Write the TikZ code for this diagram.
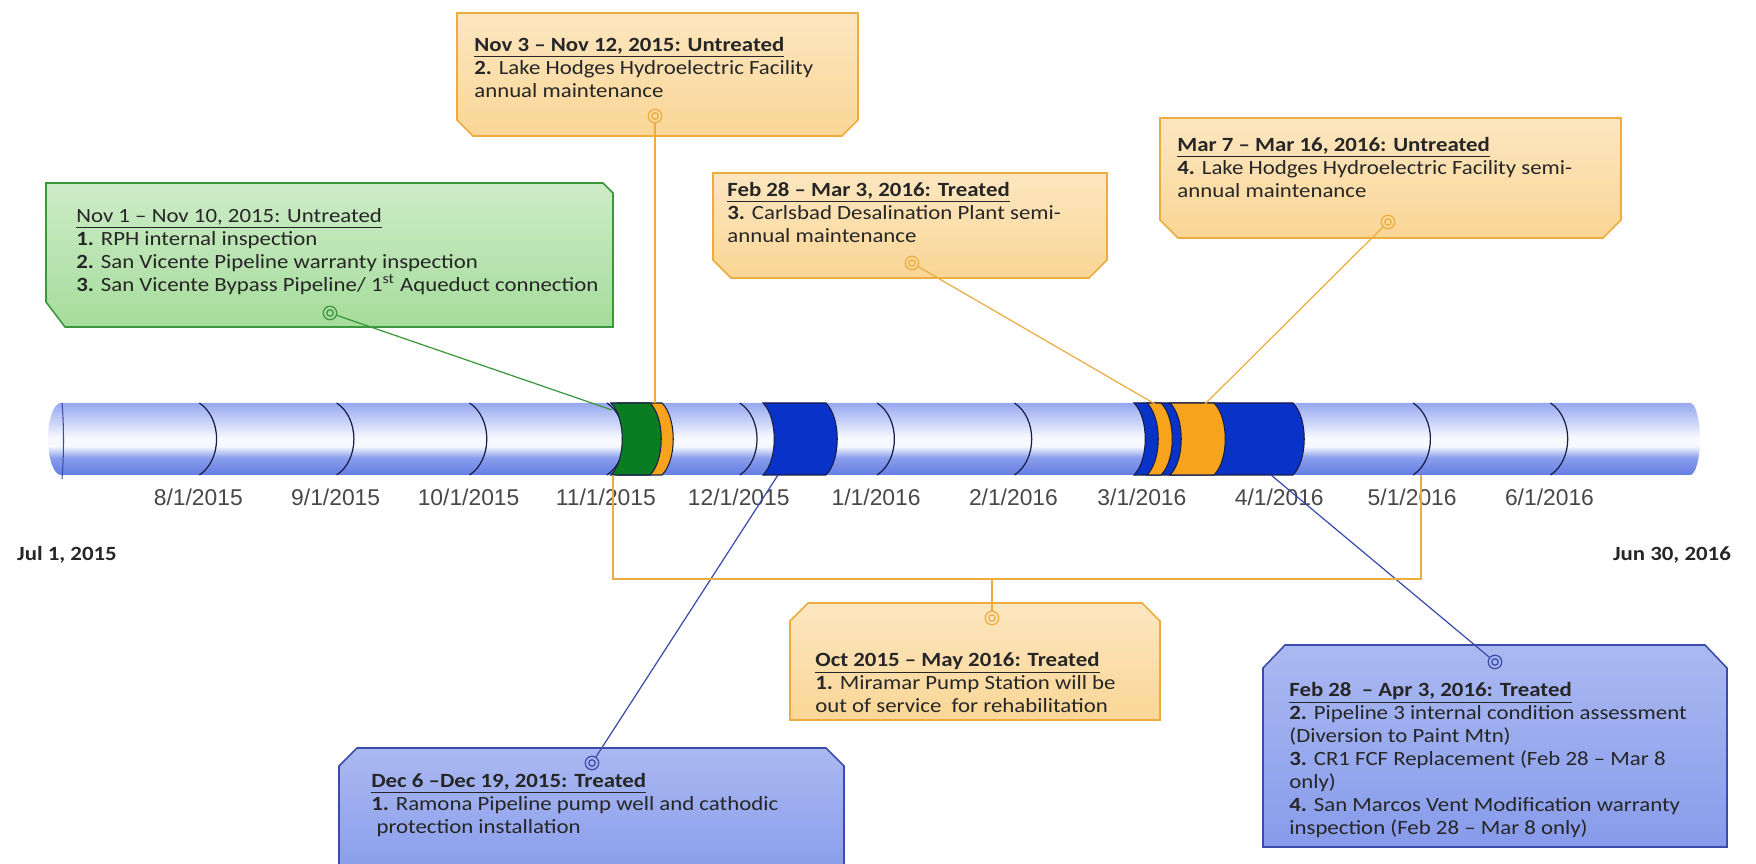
\documentclass[tikz,border=0pt]{standalone}
\usepackage{fontspec}
\setmainfont{Carlito}[FakeStretch=1.13]
\newfontfamily\datefont{Liberation Sans}
\usepackage{tikz}

\definecolor{bartop}{RGB}{150,168,240}
\definecolor{barhigh}{RGB}{205,214,249}
\definecolor{barlight}{RGB}{247,249,255}
\definecolor{barmid}{RGB}{138,158,236}
\definecolor{barlow}{RGB}{100,125,228}
\definecolor{arcnavy}{RGB}{25,30,70}
\definecolor{bandgreen}{RGB}{10,125,35}
\definecolor{bandorange}{RGB}{247,163,28}
\definecolor{bandblue}{RGB}{8,50,200}
\definecolor{grnline}{RGB}{60,150,60}
\definecolor{grnfill}{RGB}{165,220,155}
\definecolor{orgline}{RGB}{236,172,62}
\definecolor{orgfill}{RGB}{250,214,150}
\definecolor{bluline}{RGB}{60,76,170}
\definecolor{blufill}{RGB}{135,155,235}

\pgfdeclareverticalshading{barshade}{100bp}{color(0bp)=(barlow); color(25bp)=(barlow);
  color(37bp)=(barmid); color(45bp)=(barlight); color(51bp)=(barlight);
  color(61bp)=(barhigh); color(75bp)=(bartop); color(100bp)=(bartop)}

\begin{document}
\begin{tikzpicture}[x=0.02cm, y=-0.02cm,
    boxtext/.style={anchor=north west, align=left, inner sep=0pt, text=black!85,
      font=\fontsize{11.5}{13.1}\selectfont},
    datelabel/.style={font=\datefont\fontsize{13}{15}\selectfont, text=black!72},
    endlabel/.style={font=\fontsize{11.5}{13}\selectfont\bfseries, text=black!85},
    greenbox/.style={draw=grnline, line width=0.9pt, top color=grnfill!55, bottom color=grnfill},
    orangebox/.style={draw=orgline, line width=0.9pt, top color=orgfill!60, bottom color=orgfill},
    bluebox/.style={draw=bluline, line width=0.9pt, top color=blufill!70, bottom color=blufill},
    ring/.style={circle, draw=#1, line width=0.7pt, minimum size=0.27cm, inner sep=0pt,
      path picture={\draw[#1, line width=0.7pt] (path picture bounding box.center) circle (0.065cm);}},
    band/.style={draw=arcnavy, line width=0.6pt}]
    \useasboundingbox (0,0) rectangle (1756,864);

    % Zeitachse (Rohr)
    \shade[shading=barshade]
      (61,403) -- (1690,403) arc[start angle=-90, end angle=90, x radius=10, y radius=36]
      -- (61,475) arc[start angle=90, end angle=270, x radius=13, y radius=36] -- cycle;
    \draw[bluline, line width=0.6pt] (62,403) .. controls (64,425) and (64,455) .. (62,479);

    % Monatsringe und Datumsbeschriftung
    \foreach \d/\m/\y in {31/8/2015, 62/9/2015, 92/10/2015, 123/11/2015, 153/12/2015, 184/1/2016,
                          215/2/2016, 244/3/2016, 275/4/2016, 305/5/2016, 336/6/2016} {
      \pgfmathsetmacro{\mx}{61+\d*4.43}
      \draw[arcnavy, line width=0.7pt] (\mx+1,403) .. controls (\mx+24,418) and (\mx+24,460) .. (\mx+1,475);
      \node[datelabel] (d\m) at (\mx,497) {\m/1/\y};
    }
    \node[endlabel, anchor=west] (jul) at (11,555) {Jul 1, 2015};
    \node[endlabel, anchor=east] (jun) at (1737,555) {Jun 30, 2016};

    % Abschaltungen auf der Achse
    \filldraw[band, fill=bandorange] (618,403) .. controls (633,418) and (633,460) .. (618,475)
      -- (662,475) .. controls (677,460) and (677,418) .. (662,403) -- cycle;            % Nov 3-12
    \filldraw[band, fill=bandgreen] (611,403) .. controls (626,418) and (626,460) .. (611,475)
      -- (650,475) .. controls (665,460) and (665,418) .. (650,403) -- cycle;            % Nov 1-10
    \filldraw[band, fill=bandblue] (763,403) .. controls (778,418) and (778,460) .. (763,475)
      -- (826,475) .. controls (841,460) and (841,418) .. (826,403) -- cycle;            % Dec 6-19
    \filldraw[band, fill=bandblue] (1134,403) .. controls (1149,418) and (1149,460) .. (1134,475)
      -- (1293,475) .. controls (1308,460) and (1308,418) .. (1293,403) -- cycle;        % Feb 28 - Apr 3
    \filldraw[band, fill=bandorange] (1147,403) .. controls (1162,418) and (1162,460) .. (1147,475)
      -- (1161,475) .. controls (1176,460) and (1176,418) .. (1161,403) -- cycle;        % Feb 28 - Mar 3
    \filldraw[band, fill=bandorange] (1170,403) .. controls (1185,418) and (1185,460) .. (1170,475)
      -- (1214,475) .. controls (1229,460) and (1229,418) .. (1214,403) -- cycle;        % Mar 7-16

    % 1. Nov 1 - Nov 10 (gruen)
    \draw[greenbox] (46,183) -- (603,183) -- (613,193) -- (613,327) -- (65,327) -- (46,302) -- cycle;
    \node[boxtext] (tNovA) at (76,208) {\underline{Nov 1 – Nov 10, 2015: Untreated}\\
      \textbf{1.} RPH internal inspection\\
      \textbf{2.} San Vicente Pipeline warranty inspection\\
      \textbf{3.} San Vicente Bypass Pipeline/ 1\textsuperscript{st} Aqueduct connection};
    \node[ring=grnline] (mA) at (330,313) {};

    % 2. Nov 3 - Nov 12
    \draw[orangebox] (457,13) -- (858,13) -- (858,120) -- (842,136) -- (473,136) -- (457,120) -- cycle;
    \node[boxtext] (tNovB) at (474,37) {\underline{\textbf{Nov 3 – Nov 12, 2015: Untreated}}\\
      \textbf{2.} Lake Hodges Hydroelectric Facility\\
      annual maintenance};
    \node[ring=orgline] (mB) at (655,116) {};

    % 3. Feb 28 - Mar 3
    \draw[orangebox] (713,173) -- (1107,173) -- (1107,260) -- (1089,278) -- (731,278) -- (713,260) -- cycle;
    \node[boxtext] (tFeb) at (727,182) {\underline{\textbf{Feb 28 – Mar 3, 2016: Treated}}\\
      \textbf{3.} Carlsbad Desalination Plant semi-\\
      annual maintenance};
    \node[ring=orgline] (mC) at (912,263) {};

    % 4. Mar 7 - Mar 16
    \draw[orangebox] (1160,118) -- (1621,118) -- (1621,220) -- (1603,238) -- (1178,238) -- (1160,220) -- cycle;
    \node[boxtext] (tMar) at (1177,137) {\underline{\textbf{Mar 7 – Mar 16, 2016: Untreated}}\\
      \textbf{4.} Lake Hodges Hydroelectric Facility semi-\\
      annual maintenance};
    \node[ring=orgline] (mD) at (1388,222) {};

    % 5. Dec 6 - Dec 19 (blau)
    \draw[bluebox] (339,766) -- (357,748) -- (826,748) -- (844,766) -- (844,880) -- (339,880) -- cycle;
    \node[boxtext] (tDec) at (371,773) {\underline{\textbf{Dec 6 –Dec 19, 2015: Treated}}\\
      \textbf{1.} Ramona Pipeline pump well and cathodic\\
      \ protection installation};
    \node[ring=bluline] (mE) at (592,763) {};

    % 6. Oct 2015 - May 2016
    \draw[orangebox] (790,621) -- (808,603) -- (1142,603) -- (1160,621) -- (1160,720) -- (790,720) -- cycle;
    \node[boxtext] (tOct) at (815,652) {\underline{\textbf{Oct 2015 – May 2016: Treated}}\\
      \textbf{1.} Miramar Pump Station will be\\
      out of service\ \ for rehabilitation};
    \node[ring=orgline] (mF) at (992,618) {};

    % 7. Feb 28 - Apr 3 (blau)
    \draw[bluebox] (1263,668) -- (1285,645) -- (1705,645) -- (1727,668) -- (1727,847) -- (1263,847) -- cycle;
    \node[boxtext] (tApr) at (1289,682) {\underline{\textbf{Feb 28\ \ – Apr 3, 2016: Treated}}\\
      \textbf{2.} Pipeline 3 internal condition assessment\\
      (Diversion to Paint Mtn)\\
      \textbf{3.} CR1 FCF Replacement (Feb 28 – Mar 8\\
      only)\\
      \textbf{4.} San Marcos Vent Modification warranty\\
      inspection (Feb 28 – Mar 8 only)};
    \node[ring=bluline] (mG) at (1495,662) {};

    % Verbindungslinien
    \coordinate (tA) at (612,410);
    \coordinate (tB) at (655,403);
    \coordinate (tC) at (1155,404);
    \coordinate (tD) at (1205,404);
    \coordinate (tE) at (778,475);
    \coordinate (tG) at (1271,475);
    \coordinate (oL) at (613,475);  \coordinate (oLd) at (613,579);
    \coordinate (oR) at (1421,475); \coordinate (oRd) at (1421,579);
    \draw[grnline, line width=0.7pt] (mA) -- (tA);
    \draw[orgline, line width=0.7pt] (mB) -- (mB |- tB);
    \draw[orgline, line width=0.7pt] (mC) -- (tC);
    \draw[orgline, line width=0.7pt] (mD) -- (tD);
    \draw[bluline, line width=0.7pt] (mE) -- (tE);
    \draw[bluline, line width=0.7pt] (mG) -- (tG);
    \draw[orgline, line width=0.7pt] (oL) -- (oLd) -- (oRd) -- (oR);
    \draw[orgline, line width=0.7pt] (mF) -- (mF |- oLd);
\end{tikzpicture}
\end{document}
